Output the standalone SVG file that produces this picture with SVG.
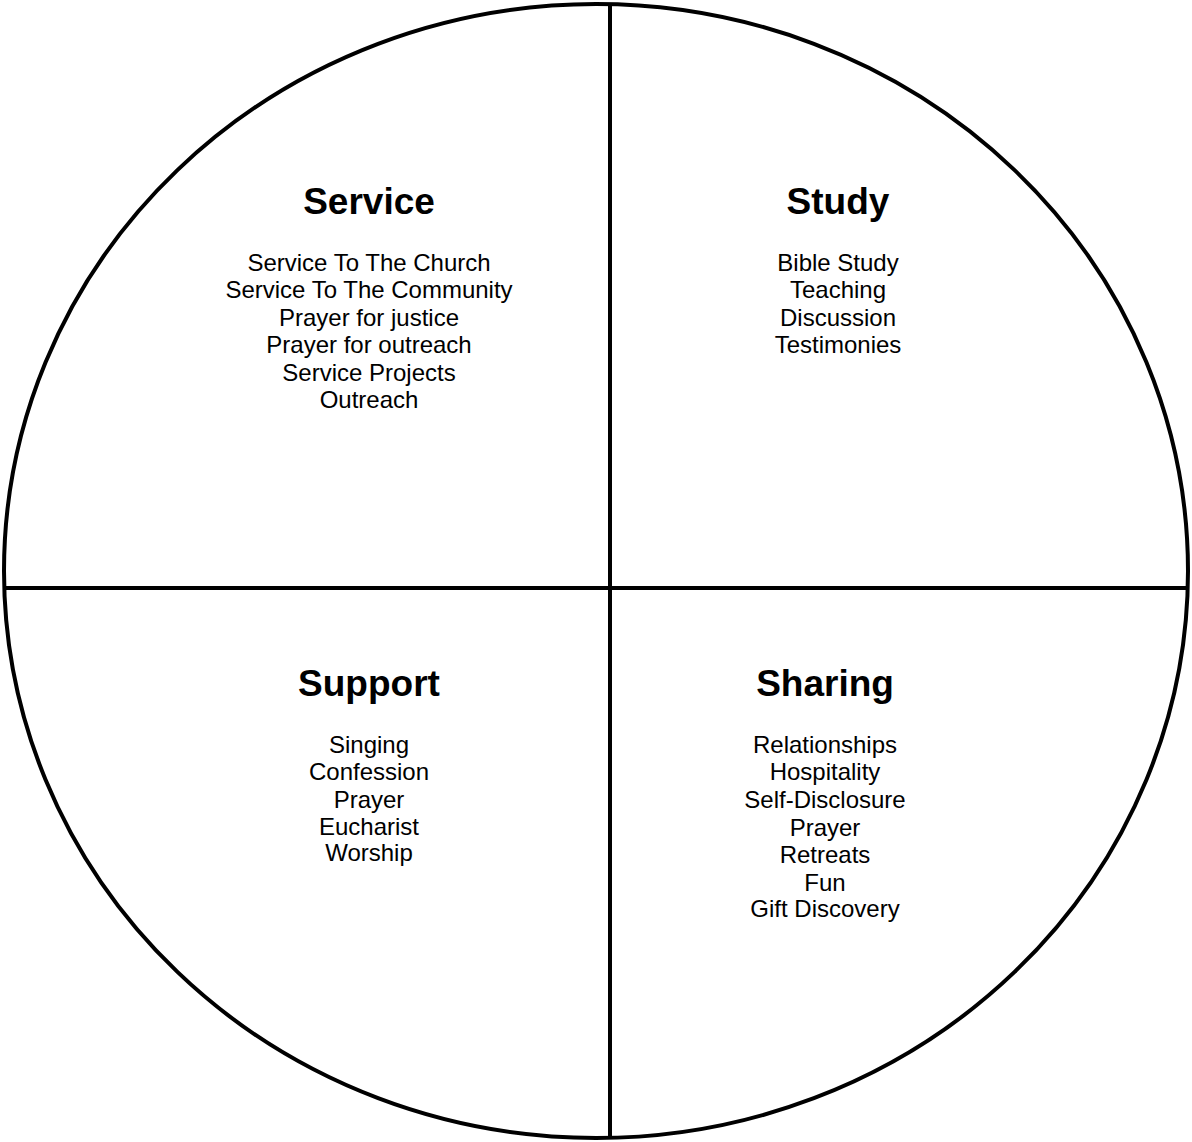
<svg xmlns="http://www.w3.org/2000/svg" width="1192" height="1142" viewBox="0 0 1192 1142">
<style>
.ln{stroke:#000;stroke-width:4;fill:none}
.t{font-family:"Liberation Sans",Arial,sans-serif;font-weight:bold;font-size:37px;text-anchor:middle;fill:#000}
.i{font-family:"Liberation Sans",Arial,sans-serif;font-size:24px;text-anchor:middle;fill:#000}
</style>
<rect width="1192" height="1142" fill="#fff"/>
<g id="connectors">
<ellipse class="ln" cx="596" cy="571" rx="592" ry="567"/>
<line class="ln" x1="610" y1="5" x2="610" y2="1138"/>
<line class="ln" x1="4" y1="588" x2="1188" y2="588"/>
</g>
<g id="service">
<text class="t" x="369" y="214">Service</text>
<text class="i" x="369" y="271">Service To The Church</text>
<text class="i" x="369" y="298">Service To The Community</text>
<text class="i" x="369" y="326">Prayer for justice</text>
<text class="i" x="369" y="353">Prayer for outreach</text>
<text class="i" x="369" y="381">Service Projects</text>
<text class="i" x="369" y="408">Outreach</text>
</g>
<g id="study">
<text class="t" x="838" y="214">Study</text>
<text class="i" x="838" y="271">Bible Study</text>
<text class="i" x="838" y="298">Teaching</text>
<text class="i" x="838" y="326">Discussion</text>
<text class="i" x="838" y="353">Testimonies</text>
</g>
<g id="support">
<text class="t" x="369" y="696">Support</text>
<text class="i" x="369" y="753">Singing</text>
<text class="i" x="369" y="780">Confession</text>
<text class="i" x="369" y="808">Prayer</text>
<text class="i" x="369" y="835">Eucharist</text>
<text class="i" x="369" y="861">Worship</text>
</g>
<g id="sharing">
<text class="t" x="825" y="696">Sharing</text>
<text class="i" x="825" y="753">Relationships</text>
<text class="i" x="825" y="780">Hospitality</text>
<text class="i" x="825" y="808">Self-Disclosure</text>
<text class="i" x="825" y="836">Prayer</text>
<text class="i" x="825" y="863">Retreats</text>
<text class="i" x="825" y="891">Fun</text>
<text class="i" x="825" y="917">Gift Discovery</text>
</g>
</svg>
